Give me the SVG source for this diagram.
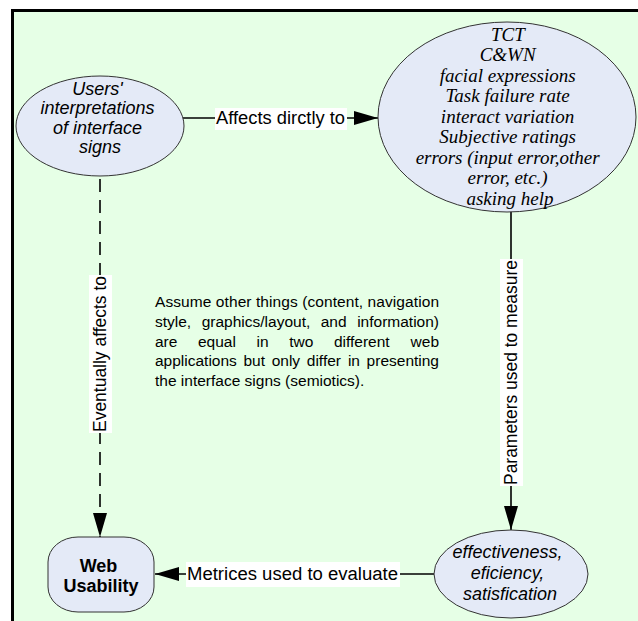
<svg xmlns="http://www.w3.org/2000/svg" width="638" height="621" viewBox="0 0 638 621">
  <style>
    .node { fill: #E4EAF7; stroke: #333333; stroke-width: 1; }
    .sans { font-family: "Liberation Sans", Arial, sans-serif; fill: #000; }
    .serif { font-family: "Liberation Serif", "Times New Roman", serif; fill: #000; }
    .it { font-style: italic; }
    .lbl { font-size: 18px; }
    .edge { stroke: #000; stroke-width: 1.6; fill: none; }
    .tag { fill: #FFFFFF; }
    .note { font-size: 15.5px; }
  </style>
  <defs>
    <marker id="arrow" viewBox="0 0 24 14" refX="24" refY="7" markerWidth="24" markerHeight="14" markerUnits="userSpaceOnUse" orient="auto">
      <path d="M0,0 L24,7 L0,14 Z" fill="#000"/>
    </marker>
  </defs>

  <!-- page background with heavy frame (runs off the right and bottom) -->
  <rect x="0" y="0" width="638" height="621" fill="#FFFFFF"/>
  <rect x="12.5" y="10.5" width="700" height="700" fill="#E6FFE6" stroke="#000" stroke-width="3"/>

  <!-- connectors -->
  <g id="connectors">
    <g id="e-affects">
      <line class="edge" x1="183" y1="118" x2="378" y2="118" marker-end="url(#arrow)"/>
      <rect class="tag" x="215" y="108" width="132" height="22"/>
      <text class="sans lbl" x="216" y="124" textLength="129" lengthAdjust="spacingAndGlyphs">Affects dirctly to</text>
    </g>
    <g id="e-eventually">
      <line class="edge" x1="100" y1="179" x2="100" y2="537" stroke-dasharray="13 8" marker-end="url(#arrow)"/>
      <rect class="tag" x="89" y="275" width="23" height="158"/>
      <text class="sans lbl" transform="translate(106,354) rotate(-90)" x="0" y="0" text-anchor="middle" textLength="156" lengthAdjust="spacingAndGlyphs">Eventually affects to</text>
    </g>
    <g id="e-parameters">
      <line class="edge" x1="511" y1="211" x2="511" y2="530" marker-end="url(#arrow)"/>
      <rect class="tag" x="500" y="259" width="23" height="227"/>
      <text class="sans lbl" transform="translate(517,372.5) rotate(-90)" x="0" y="0" text-anchor="middle" textLength="225" lengthAdjust="spacingAndGlyphs">Parameters used to measure</text>
    </g>
    <g id="e-metrices">
      <line class="edge" x1="434" y1="574" x2="155" y2="574" marker-end="url(#arrow)"/>
      <rect class="tag" x="186" y="562" width="214" height="25"/>
      <text class="sans lbl" x="187" y="580" textLength="211" lengthAdjust="spacingAndGlyphs">Metrices used to evaluate</text>
    </g>
  </g>

  <!-- nodes -->
  <g id="n-interpretations">
    <ellipse class="node" cx="100" cy="126" rx="84" ry="50"/>
    <text class="sans it lbl" text-anchor="middle">
      <tspan x="100" y="94.5">Users'</tspan>
      <tspan x="100" y="114">interpretations</tspan>
      <tspan x="100" y="133.5">of interface</tspan>
      <tspan x="100" y="153">signs</tspan>
    </text>
  </g>

  <g id="n-parameters">
    <ellipse class="node" cx="507" cy="117" rx="129" ry="95"/>
    <text class="serif it" font-size="19" text-anchor="middle">
      <tspan x="510" y="40.5">TCT</tspan>
      <tspan x="510" y="61">C&amp;WN</tspan>
      <tspan x="510" y="81.5">facial expressions</tspan>
      <tspan x="510" y="102">Task failure rate</tspan>
      <tspan x="510" y="122.5">interact variation</tspan>
      <tspan x="510" y="143">Subjective ratings</tspan>
      <tspan x="510" y="163.5">errors (input error,other</tspan>
      <tspan x="510" y="184">error, etc.)</tspan>
      <tspan x="510" y="204.5">asking help</tspan>
    </text>
  </g>

  <g id="n-metrics">
    <ellipse class="node" cx="511" cy="574" rx="77" ry="44"/>
    <text class="sans it lbl" text-anchor="middle">
      <tspan x="510" y="558">effectiveness,</tspan>
      <tspan x="510" y="579">eficiency,</tspan>
      <tspan x="510" y="600">satisfication</tspan>
    </text>
  </g>

  <g id="n-usability">
    <rect class="node" x="48" y="537" width="106" height="75" rx="30" ry="25"/>
    <text class="sans lbl" font-weight="bold" text-anchor="middle">
      <tspan x="101" y="572">Web</tspan>
      <tspan x="101" y="592">Usability</tspan>
    </text>
  </g>

  <!-- assumption note, justified -->
  <g id="note">
    <text class="sans note" x="155" y="307" textLength="284" lengthAdjust="spacing">Assume other things (content, navigation</text>
    <text class="sans note" y="326.8">
      <tspan x="155">style,</tspan>
      <tspan x="201.7">graphics/layout,</tspan>
      <tspan x="320.7">and</tspan>
      <tspan x="439" text-anchor="end">information)</tspan>
    </text>
    <text class="sans note" y="346.6">
      <tspan x="155">are</tspan>
      <tspan x="198">equal</tspan>
      <tspan x="256.5">in</tspan>
      <tspan x="289.2">two</tspan>
      <tspan x="333.9">different</tspan>
      <tspan x="439" text-anchor="end">web</tspan>
    </text>
    <text class="sans note" y="366.4">
      <tspan x="155">applications</tspan>
      <tspan x="243.5">but</tspan>
      <tspan x="271.7">only</tspan>
      <tspan x="306.8">differ</tspan>
      <tspan x="347.9">in</tspan>
      <tspan x="439" text-anchor="end">presenting</tspan>
    </text>
    <text class="sans note" x="155" y="386.2">the interface signs (semiotics).</text>
  </g>
</svg>
